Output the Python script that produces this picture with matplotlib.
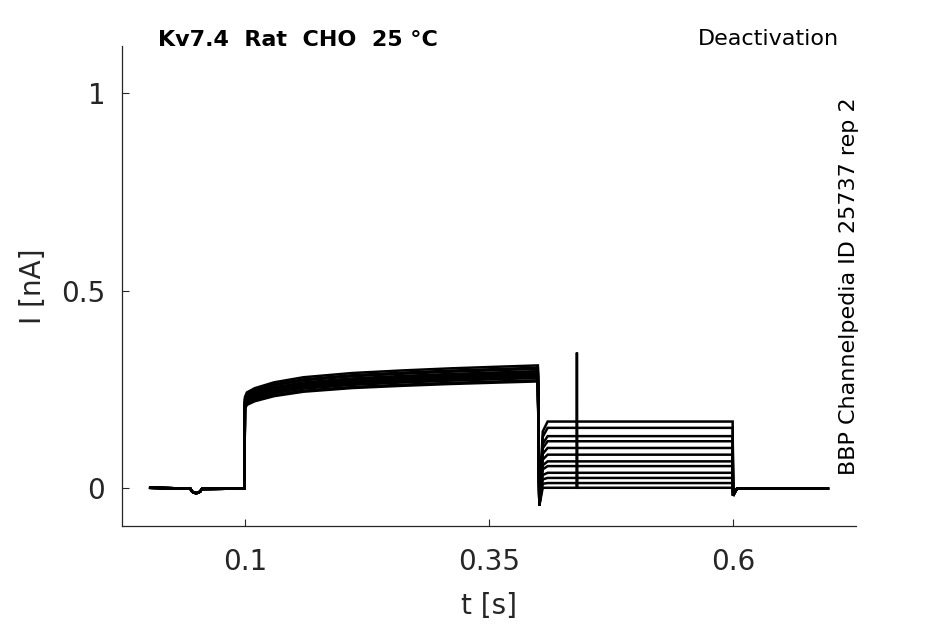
import numpy as np
import matplotlib
matplotlib.use("Agg")
import matplotlib.pyplot as plt

# ---- data ----
# baseline before the activation step (common to all traces)
t_base = [0.003, 0.044, 0.046, 0.050, 0.054, 0.056, 0.0995]
i_base = [0.0, -0.002, -0.010, -0.014, -0.010, -0.003, -0.002]

# activation step 0.1 .. 0.4 s (mean curve)
t_act = [0.1, 0.102, 0.11, 0.13, 0.16, 0.21, 0.26, 0.31, 0.36, 0.3995]
i_act = [0.215, 0.226, 0.236, 0.250, 0.262, 0.272, 0.278, 0.283, 0.287, 0.290]
# per-trace scaling of activation current (spread of the band)
act_scale = [1.07, 1.05, 1.04, 1.02, 1.01, 1.0, 0.99, 0.98, 0.97, 0.96, 0.94, 0.93]

# deactivation (tail) levels, one per trace, 0.4 .. 0.6 s
tail_levels = [0.168, 0.152, 0.131, 0.118, 0.101, 0.084, 0.067, 0.055, 0.038, 0.025, 0.012, 0.0]
tail_dip = -0.045  # capacitive dip right after 0.4 s

# after the tail, back at baseline 0.6 .. 0.7 s
t_post = [0.6, 0.6015, 0.604, 0.697]
i_post = [-0.02, -0.012, -0.002, -0.002]

# artefact spike on one trace
spike_t = 0.44
spike_peak = 0.343

xticks = [0.1, 0.35, 0.6]
xticklabels = ["0.1", "0.35", "0.6"]
yticks = [0, 0.5, 1]
yticklabels = ["0", "0.5", "1"]

# ---- figure ----
fig = plt.figure(figsize=(9.45, 6.24), dpi=100)
ax = fig.add_axes([0.129, 0.157, 0.777, 0.769])

textc = "#262626"
for k, (sc, lvl) in enumerate(zip(act_scale, tail_levels)):
    t = list(t_base)
    y = list(i_base)
    t += t_act
    y += [v * sc for v in i_act]
    t += [0.4, 0.4015, 0.405, 0.41]
    y += [i_act[-1] * sc, tail_dip, lvl * 0.85, lvl]
    if k == len(tail_levels) - 1:
        t += [spike_t - 0.0004, spike_t, spike_t + 0.0004]
        y += [lvl, spike_peak, lvl]
    t += [0.5995]
    y += [lvl]
    t += t_post
    y += i_post
    ax.plot(t, y, color="black", lw=1.8, solid_joinstyle="miter")

ax.set_xlim(-0.026, 0.726)
ax.set_ylim(-0.097, 1.12)
ax.set_xticks(xticks)
ax.set_xticklabels(xticklabels)
ax.set_yticks(yticks)
ax.set_yticklabels(yticklabels)
ax.tick_params(direction="in", length=5, width=0.8, colors=textc, labelsize=20)
ax.tick_params(axis="x", pad=16)
ax.tick_params(axis="y", pad=12)
for s in ["top", "right"]:
    ax.spines[s].set_visible(False)
for s in ["left", "bottom"]:
    ax.spines[s].set_color(textc)
    ax.spines[s].set_linewidth(0.9)

ax.set_xlabel("t [s]", fontsize=20, color=textc, labelpad=11)
ax.set_ylabel("I [nA]", fontsize=20, color=textc, labelpad=10)

fig.text(158 / 945, 1 - 40 / 624, "Kv7.4  Rat  CHO  25 °C", fontsize=16, fontweight="bold",
         color="black", ha="left", va="center")
fig.text(839 / 945, 1 - 39 / 624, "Deactivation", fontsize=16, color="black",
         ha="right", va="center")
fig.text(849 / 945, 1 - 286 / 624, "BBP Channelpedia ID 25737 rep 2", fontsize=16,
         color="black", rotation=90, ha="center", va="center")

fig.savefig("out.png", dpi=100)
